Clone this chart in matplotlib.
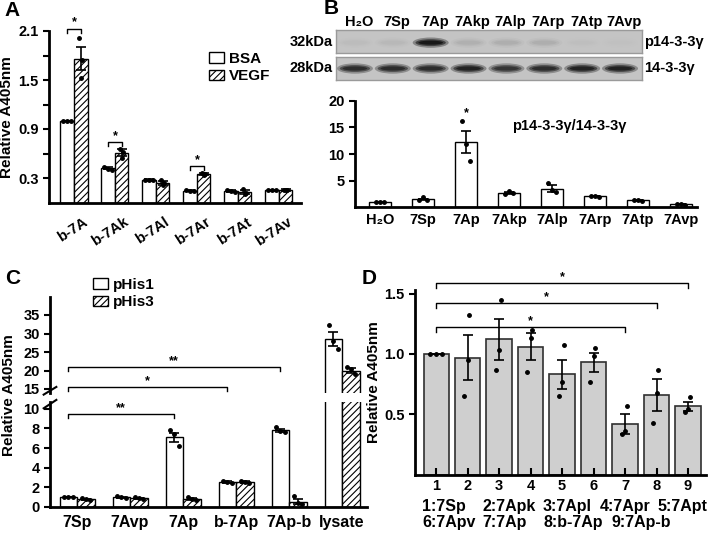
import matplotlib
matplotlib.use("Agg")
import matplotlib.pyplot as plt
from matplotlib.patches import Ellipse
import numpy as np

plt.rcParams['font.family'] = ['Liberation Sans', 'DejaVu Sans']
plt.rcParams['font.weight'] = 'bold'
plt.rcParams['axes.labelweight'] = 'bold'
plt.rcParams['hatch.linewidth'] = 0.8
plt.rcParams['font.size'] = 10

# ---- panel A data
a_groups = ['b-7A', 'b-7Ak', 'b-7Al', 'b-7Ar', 'b-7At', 'b-7Av']
a_bsa = [1.00, 0.42, 0.275, 0.145, 0.14, 0.15]
a_vegf = [1.76, 0.61, 0.24, 0.35, 0.13, 0.15]
a_bsa_err = [0.0, 0.01, 0.01, 0.005, 0.01, 0.005]
a_vegf_err = [0.14, 0.04, 0.02, 0.01, 0.02, 0.01]
a_bsa_pts = [[1, 1, 1], [0.44, 0.41, 0.40], [0.28, 0.27, 0.27],
             [0.15, 0.145, 0.14], [0.15, 0.14, 0.13], [0.15, 0.15, 0.15]]
a_vegf_pts = [[2.02, 1.74, 1.52], [0.66, 0.62, 0.55], [0.27, 0.24, 0.22],
              [0.36, 0.35, 0.34], [0.17, 0.12, 0.11], [0.15, 0.15, 0.15]]
a_sig = [(0, 2.13), (1, 0.74), (3, 0.45)]

# ---- panel B data
b_lanes = ['H\u2082O', '7Sp', '7Ap', '7Akp', '7Alp', '7Arp', '7Atp', '7Avp']
b_vals = [1.0, 1.5, 12.2, 2.7, 3.5, 2.1, 1.3, 0.6]
b_err = [0.05, 0.15, 2.1, 0.2, 0.6, 0.05, 0.05, 0.05]
b_pts = [[1, 1, 1], [1.4, 1.9, 1.3], [16.1, 11.9, 8.6], [2.5, 3.0, 2.6],
         [4.5, 3.2, 2.8], [2.1, 2.1, 2.0], [1.3, 1.3, 1.2], [0.6, 0.6, 0.5]]
b_star = (2, 17.7)
blot_p = [0.12, 0.15, 0.9, 0.2, 0.22, 0.22, 0.1, 0.08]
blot_t = [0.8, 0.8, 0.8, 0.85, 0.75, 0.8, 0.85, 0.85]

# ---- panel C data
c_groups = ['7Sp', '7Avp', '7Ap', 'b-7Ap', '7Ap-b', 'lysate']
c_his1 = [1.0, 1.0, 7.1, 2.5, 7.8, 28.6]
c_his3 = [0.8, 0.9, 0.8, 2.5, 0.55, 20.0]
c_his1_err = [0.02, 0.05, 0.45, 0.1, 0.15, 1.9]
c_his3_err = [0.05, 0.05, 0.1, 0.1, 0.25, 0.6]
c_his1_pts = [[1, 1, 1], [1.1, 1.0, 0.95], [7.8, 7.4, 6.2], [2.7, 2.5, 2.4],
              [8.2, 7.7, 7.6], [32.2, 28.0, 25.7]]
c_his3_pts = [[0.9, 0.8, 0.75], [1.0, 0.9, 0.85], [1.0, 0.8, 0.7],
              [2.6, 2.5, 2.45], [1.1, 0.4, 0.3], [21.0, 20.5, 19.0]]
c_sig_upper = [(0, 4, 20.9, '**'), (0, 3, 15.5, '*')]
c_sig_lower = [(0, 2, 9.5, '**')]

# ---- panel D data
d_labels = ['1', '2', '3', '4', '5', '6', '7', '8', '9']
d_vals = [1.0, 0.97, 1.12, 1.06, 0.83, 0.93, 0.42, 0.66, 0.565]
d_err = [0.0, 0.19, 0.17, 0.11, 0.12, 0.08, 0.08, 0.13, 0.04]
d_pts = [[1, 1, 1], [1.32, 0.95, 0.65], [1.45, 1.03, 0.87], [1.2, 1.13, 0.85],
         [1.07, 0.77, 0.65], [1.05, 0.98, 0.77], [0.57, 0.36, 0.34],
         [0.87, 0.68, 0.43], [0.64, 0.54, 0.52]]
d_sig = [(0, 8, 1.59), (0, 7, 1.42), (0, 6, 1.22)]
d_key1 = ['1:7Sp', '2:7Apk', '3:7Apl', '4:7Apr', '5:7Apt']
d_key2 = ['6:7Apv', '7:7Ap', '8:b-7Ap', '9:7Ap-b']

W, H = 709, 534
fig = plt.figure(figsize=(W / 100, H / 100), dpi=100)


def add_ax(l, t, r, b):
    return fig.add_axes([l / W, 1 - b / H, (r - l) / W, (b - t) / H])


def ftext(x, y, s, **kw):
    fig.text(x / W, 1 - y / H, s, **kw)


def style(ax):
    for s in ['top', 'right']:
        ax.spines[s].set_visible(False)
    for s in ['left', 'bottom']:
        ax.spines[s].set_linewidth(2)
    ax.tick_params(width=1.5, length=4, labelsize=10.5)


def dots(ax, x, pts, dx):
    for p, o in zip(pts, dx):
        ax.plot(x + o, p, 'o', color='k', ms=2.5, zorder=5, clip_on=False)


def bracket(ax, x1, x2, y, h, txt, size=9):
    ax.plot([x1, x1, x2, x2], [y - h, y, y, y - h], color='k', lw=1, clip_on=False)
    ax.text((x1 + x2) / 2, y, txt, ha='center', va='bottom', fontsize=size, clip_on=False)


ekw = dict(ecolor='k', elinewidth=1.2, capsize=3.5, capthick=1.2)
lkw = dict(frameon=False, fontsize=11, handlelength=1.0, handleheight=0.7, handletextpad=0.3,
           labelspacing=0.25, borderpad=0)

# ================= A
ax = add_ax(49, 31, 301, 202.5)
style(ax)
x = np.arange(len(a_groups))
w = 0.33
ax.bar(x - w / 2, a_bsa, w, yerr=a_bsa_err, color='white', edgecolor='k', lw=1, error_kw=ekw, label='BSA')
ax.bar(x + w / 2, a_vegf, w, yerr=a_vegf_err, color='white', edgecolor='k', lw=1, hatch='/////',
       error_kw=ekw, label='VEGF')
for i in range(len(a_groups)):
    dots(ax, x[i] - w / 2, a_bsa_pts[i], [-0.1, 0, 0.1])
    dots(ax, x[i] + w / 2, a_vegf_pts[i], [-0.05, 0.03, 0.0])
for g, y in a_sig:
    bracket(ax, g - w / 2, g + w / 2, y, 0.05, '*')
ax.set_xlim(-0.61, 5.54)
ax.set_ylim(0, 2.1)
ax.set_yticks([0.3, 0.6, 0.9, 1.2, 1.5, 1.8, 2.1])
ax.set_yticklabels(['0.3', '', '0.9', '', '1.5', '', '2.1'])
ax.set_xticks(x + 0.2)
ax.set_xticklabels(a_groups, rotation=33, ha='right', rotation_mode='anchor', fontsize=10.5)
ax.tick_params(axis='x', length=0, pad=9)
ax.set_ylabel('Relative A405nm', fontsize=11, labelpad=3)
ax.legend(loc='upper left', bbox_to_anchor=(201 / W, 1 - 44 / H), bbox_transform=fig.transFigure, **lkw)

# ================= B blot
for (top, bot, vals, yoff) in [(30, 53, blot_p, 0.45), (57, 80, blot_t, 0.5)]:
    bx = add_ax(336, top, 642, bot)
    bx.set_facecolor('#c4c4c4')
    bx.set_xlim(-0.5, 7.58)
    bx.set_ylim(0, 1)
    bx.set_xticks([])
    bx.set_yticks([])
    for s in bx.spines.values():
        s.set_color('#9a9a9a')
        s.set_linewidth(1)
    for i, v in enumerate(vals):
        c = 0.78 * (1 - v)
        for sw, sh, al in [(0.95, 0.45, 0.35), (0.8, 0.3, 0.6), (0.65, 0.18, 0.9)]:
            bx.add_patch(Ellipse((i, yoff), sw, sh, color=(c, c, c), alpha=al * min(1, v * 1.6), lw=0))
ftext(333, 42, '32kDa', ha='right', va='center', fontsize=10.5)
ftext(333, 68, '28kDa', ha='right', va='center', fontsize=10.5)
ftext(644, 42, 'p14-3-3\u03b3', ha='left', va='center', fontsize=10.5)
ftext(644, 68, '14-3-3\u03b3', ha='left', va='center', fontsize=10.5)
for i, lab in enumerate(b_lanes):
    ftext(359 + i * 37.9, 22, lab, ha='center', va='center', fontsize=10.5)

# ================= B bars
ax = add_ax(355, 100.7, 697, 207.3)
style(ax)
x = np.arange(len(b_lanes))
ax.bar(x, b_vals, 0.51, yerr=b_err, color='white', edgecolor='k', lw=1, error_kw=ekw)
for i in range(len(b_lanes)):
    dots(ax, x[i], b_pts[i], [-0.1, 0.0, 0.1])
ax.text(b_star[0], b_star[1], '*', ha='center', va='center', fontsize=9)
ax.set_xlim(-0.58, 7.37)
ax.set_ylim(0, 20)
ax.set_yticks([5, 10, 15, 20])
ax.set_xticks(x)
ax.set_xticklabels(b_lanes, fontsize=10.5)
ax.tick_params(axis='x', length=0, pad=4)
ax.text(0.46, 0.76, 'p14-3-3\u03b3/14-3-3\u03b3', transform=ax.transAxes, fontsize=10.5, va='center')

# ================= C
x = np.arange(len(c_groups))
w = 0.33
axu = add_ax(50, 296.5, 367, 392.7)
axl = add_ax(50, 402, 367, 507)
for axc in [axu, axl]:
    style(axc)
    axc.bar(x - w / 2, c_his1, w, yerr=c_his1_err, color='white', edgecolor='k', lw=1, error_kw=ekw,
            label='pHis1')
    axc.bar(x + w / 2, c_his3, w, yerr=c_his3_err, color='white', edgecolor='k', lw=1, hatch='/////',
            error_kw=ekw, label='pHis3')
    axc.set_xlim(-0.51, 5.47)
for i in range(len(c_groups)):
    for axc, lo, hi in [(axu, 14, 40), (axl, 0, 10.7)]:
        p1 = [p for p in c_his1_pts[i] if lo <= p <= hi]
        p3 = [p for p in c_his3_pts[i] if lo <= p <= hi]
        dots(axc, x[i] - w / 2, p1, [-0.08, 0.0, 0.08])
        dots(axc, x[i] + w / 2, p3, [-0.08, 0.0, 0.08])
axu.set_ylim(14, 40)
axu.set_yticks([15, 20, 25, 30, 35])
axu.spines['bottom'].set_visible(False)
axu.set_xticks([])
axl.set_ylim(0, 10.7)
axl.set_yticks([0, 2, 4, 6, 8, 10])
axl.set_xticks(x)
axl.set_xticklabels(c_groups, fontsize=11.5)
axl.tick_params(axis='x', length=0, pad=6)
for g1, g2, y, t in c_sig_upper:
    bracket(axu, g1 - w / 2, g2 - w / 2, y, 1.0, t)
for g1, g2, y, t in c_sig_lower:
    bracket(axl, g1 - w / 2, g2 - w / 2, y, 0.45, t)
kw = dict(color='k', lw=1.5, clip_on=False)
axu.plot([-0.02, 0.02], [-0.02, 0.06], transform=axu.transAxes, **kw)
axl.plot([-0.02, 0.02], [0.94, 1.02], transform=axl.transAxes, **kw)
ftext(9, 395, 'Relative A405nm', rotation=90, ha='center', va='center', fontsize=11)
axu.legend(loc='upper left', bbox_to_anchor=(85 / W, 1 - 270 / H), bbox_transform=fig.transFigure, **lkw)

# ================= D
ax = add_ax(415, 290, 706, 474.5)
style(ax)
x = np.arange(len(d_labels))
ax.bar(x, d_vals, 0.8, yerr=d_err, color='#cfcfcf', edgecolor='#303030', lw=1.2, error_kw=ekw)
for i in range(len(d_labels)):
    dots(ax, x[i], d_pts[i], [-0.2, 0.0, 0.2] if i == 0 else [0.05, 0.0, -0.1])
for g1, g2, y in d_sig:
    bracket(ax, g1, g2, y, 0.04, '*')
ax.set_xlim(-0.67, 8.57)
ax.set_ylim(0, 1.53)
ax.set_yticks([0.5, 1.0, 1.5])
ax.set_yticklabels(['0.5', '1.0', '1.5'])
ax.set_xticks(x)
ax.set_xticklabels(d_labels, fontsize=10.5)
ax.tick_params(axis='x', length=5, direction='in', pad=3)
ax.set_ylabel('Relative A405nm', fontsize=11, labelpad=2)
for k, s in zip([422, 482, 543, 600, 657], d_key1):
    ftext(k, 507, s, ha='left', va='center', fontsize=11.5)
for k, s in zip([422, 482, 543, 611], d_key2):
    ftext(k, 523, s, ha='left', va='center', fontsize=11.5)

# panel letters
for lx, ly, t in [(4, 11, 'A'), (324, 8, 'B'), (5, 279, 'C'), (362, 279, 'D')]:
    ftext(lx, ly, t, ha='left', va='center', fontsize=15)

fig.savefig('out.png', dpi=100)
